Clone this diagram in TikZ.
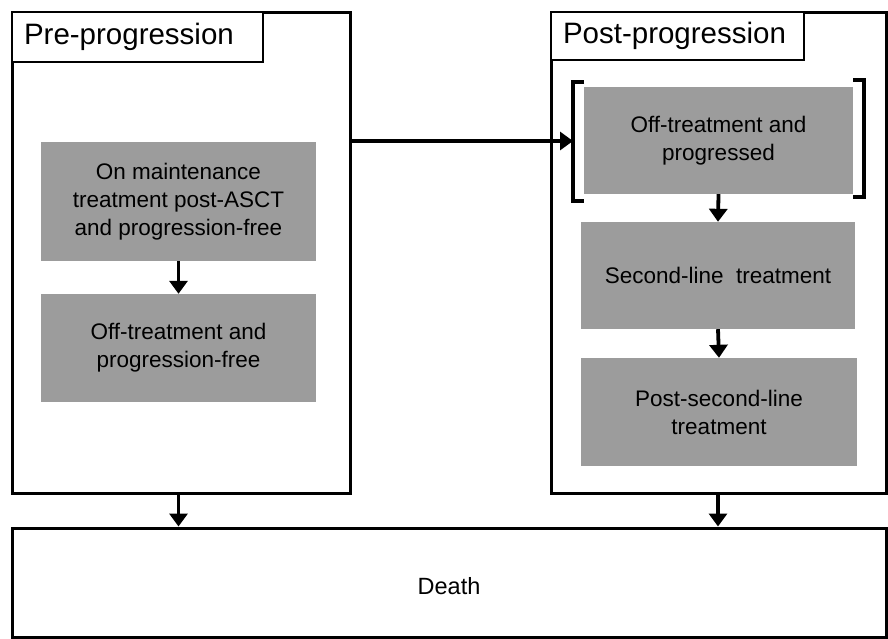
\documentclass[tikz,border=0pt]{standalone}
\usepackage{fontspec}
\setmainfont{Liberation Sans}
\usetikzlibrary{arrows.meta}
\definecolor{boxgray}{RGB}{156,156,156}
\tikzset{
  frame/.style={draw=black, line width=3pt, fill=none, inner sep=0pt},
  titlebox/.style={draw=black, line width=1.5pt, fill=white, inner sep=0pt, align=left,
    font=\fontsize{29.5}{33}\selectfont},
  graybox/.style={fill=boxgray, draw=none, inner sep=0pt, align=center,
    font=\fontsize{22.5}{28}\selectfont},
  arr/.style={line width=3.8pt, -{Triangle[length=13pt,width=18pt]}},
  brk/.style={line width=3.8pt},
}
\begin{document}
\begin{tikzpicture}[x=1pt,y=-1pt]
\useasboundingbox (0,0) rectangle (888,638);
% outer frames
\node[frame, minimum width=338pt, minimum height=481pt] (pre) at (181,252.5) {};
\node[frame, minimum width=335pt, minimum height=481pt] (post) at (718.5,252.5) {};
\node[frame, minimum width=874pt, minimum height=109pt] (death) at (449,582.5) {};
\node[inner sep=0pt, font=\fontsize{23.5}{28}\selectfont] (deathlabel) at ([yshift=-4pt]death.center) {Death};
% titles
\node[titlebox, minimum width=251pt, minimum height=50pt, text width=227pt] (pretitle) at (137.5,37) {Pre-progression};
\node[titlebox, minimum width=253pt, minimum height=48pt, text width=229pt] (posttitle) at (677.5,36) {Post-progression};
% gray boxes
\node[graybox, minimum width=275pt, minimum height=119pt] (a1) at (178.5,201.5) {On maintenance\\treatment post-ASCT\\and progression-free};
\node[graybox, minimum width=275pt, minimum height=108pt] (a2) at (178.5,348) {Off-treatment and\\progression-free};
\node[graybox, minimum width=269pt, minimum height=107pt] (b1) at (718.5,140.5) {Off-treatment and\\progressed};
\node[graybox, minimum width=274pt, minimum height=107pt] (b2) at (718,275.5) {Second-line\ \ treatment};
\node[graybox, minimum width=276pt, minimum height=108pt] (b3) at (719,412) {Post-second-line\\treatment};
% brackets
\coordinate (brLt) at (573,82);
\coordinate (brLb) at (573,201);
\coordinate (brRt) at (864,80);
\coordinate (brRb) at (864,197);
\coordinate (brL) at (573,141);
\draw[brk] ([xshift=11pt]brLt) -- (brLt) -- (brLb) -- ([xshift=11pt]brLb);
\draw[brk] ([xshift=-11pt]brRt) -- (brRt) -- (brRb) -- ([xshift=-11pt]brRb);
% arrows
\draw[arr] (a1.south) -- (a2.north);
\draw[arr] (pre.east |- brL) -- (brL);
\draw[arr] (b1.south) -- (b2.north);
\draw[arr] (b2.south) -- (b3.north);
\draw[arr] (a1.south |- pre.south) -- (a1.south |- death.north);
\draw[arr] (b2.south |- post.south) -- (b2.south |- death.north);
\end{tikzpicture}
\end{document}
